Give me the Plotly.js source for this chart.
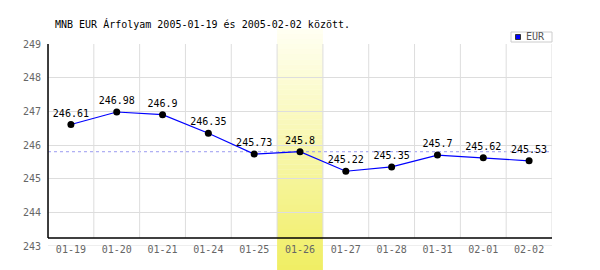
<!DOCTYPE html>
<html>
<head>
<meta charset="utf-8">
<script src="https://cdn.plot.ly/plotly-3.0.1.min.js"></script>
<style>html,body{margin:0;padding:0;background:#fff;}#chart{width:600px;height:270px;}</style>
</head>
<body>
<div id="chart"></div>
<script>
// ---- data ----
const categories = ['01-19','01-20','01-21','01-24','01-25','01-26','01-27','01-28','01-31','02-01','02-02'];
const eurValues = [246.61, 246.98, 246.9, 246.35, 245.73, 245.8, 245.22, 245.35, 245.7, 245.62, 245.53];
const seriesName = 'EUR';
const highlightCategory = '01-26';
const referenceValue = 245.8;
const yTicks = [243, 244, 245, 246, 247, 248, 249];
const titleText = 'MNB EUR Árfolyam 2005-01-19 és 2005-02-02 között.';

// ---- style / layout ----
const FONT = 'DejaVu Sans Mono, Liberation Mono, monospace';
const yMin = 243, yMax = 249;
const axisBase = 243.24;   // where the black x-axis line sits
const n = categories.length;
const mt = 44, mb = 24, ml = 48, mr = 48, W = 600, H = 270;
const plotH = H - mt - mb;
const pyPaper = py => (H - mb - py) / plotH;   // pixel y -> paper y
const pxPaper = px => (px - ml) / (W - ml - mr);

const shapes = [];
// bottom grid line at the lowest tick
shapes.push({type:'line', xref:'paper', yref:'y', x0:0, x1:1, y0:yMin, y1:yMin,
  line:{color:'#dddddd', width:1}, layer:'below'});
// vertical grid lines at category boundaries (stop at the x-axis line)
for (let i = 0; i <= n; i++) {
  shapes.push({type:'line', xref:'x', yref:'y', x0:i-0.5, x1:i-0.5, y0:axisBase, y1:yMax,
    line:{color:'#dddddd', width:1}, layer:'below'});
}
// highlight band with vertical gradient
const hi = categories.indexOf(highlightCategory);
const bandTop = pyPaper(29), bandBot = pyPaper(270);
const strips = 48;
const cTop = [255,255,242], cBot = [240,238,100];
for (let s = 0; s < strips; s++) {
  const t = (s + 0.5) / strips;
  const c = cTop.map((v,k) => Math.round(v + (cBot[k]-v)*t));
  const y0 = bandTop + (bandBot - bandTop) * s / strips;
  const y1 = bandTop + (bandBot - bandTop) * (s + 1) / strips;
  shapes.push({type:'rect', xref:'x', yref:'paper', x0:hi-0.5, x1:hi+0.5, y0:y0, y1:y1 + (s<strips-1 ? (y1-y0)*0.05 : 0),
    fillcolor:'rgb('+c.join(',')+')', line:{width:0}, layer:'between'});
}
// reference dashed line
shapes.push({type:'line', xref:'paper', yref:'y', x0:0, x1:1, y0:referenceValue, y1:referenceValue,
  line:{color:'#9a9af0', width:1, dash:'3px,3px'}, layer:'below'});
// axis lines
shapes.push({type:'line', xref:'paper', yref:'y', x0:0, x1:1, y0:axisBase, y1:axisBase,
  line:{color:'#000', width:1.5}, layer:'above'});
shapes.push({type:'line', xref:'paper', yref:'y', x0:0, x1:0, y0:axisBase, y1:yMax,
  line:{color:'#000', width:1.5}, layer:'above'});
// legend box
shapes.push({type:'rect', xref:'paper', yref:'paper', x0:pxPaper(511), x1:pxPaper(552), y0:pyPaper(42), y1:pyPaper(32),
  fillcolor:'#fff', line:{color:'#cccccc', width:1}, layer:'above'});
shapes.push({type:'rect', xref:'paper', yref:'paper', x0:pxPaper(515.5), x1:pxPaper(520.5), y0:pyPaper(39.5), y1:pyPaper(34.5),
  fillcolor:'#0000ff', line:{color:'#333', width:1}, layer:'above'});

const trace = {
  type:'scatter', mode:'lines+markers+text', name:seriesName,
  x:categories, y:eurValues,
  text:eurValues.map(v => String(v)), textposition:'top center',
  textfont:{family:FONT, size:10, color:'#000'},
  line:{color:'#0000ff', width:1.2},
  marker:{color:'#000', size:7},
  cliponaxis:false, hoverinfo:'skip'
};

const layout = {
  width:W, height:H,
  margin:{l:ml, r:mr, t:mt, b:mb, pad:0},
  paper_bgcolor:'#fff', plot_bgcolor:'rgba(0,0,0,0)',
  showlegend:false,
  font:{family:FONT, size:10, color:'#666'},
  xaxis:{type:'category', range:[-0.5, n-0.5], showgrid:false, zeroline:false, showline:false,
    ticks:'', tickfont:{family:FONT, size:10, color:'#666'}, ticklabelstandoff:-4, fixedrange:true},
  yaxis:{range:[yMin, yMax], tickvals:yTicks, ticktext:yTicks.map(String), showgrid:true, gridcolor:'#dddddd', gridwidth:1,
    zeroline:false, showline:false, ticks:'', tickfont:{family:FONT, size:10, color:'#666'}, ticklabelstandoff:6, fixedrange:true},
  shapes:shapes,
  annotations:[
    {xref:'paper', yref:'paper', x:pxPaper(53), y:pyPaper(24), xanchor:'left', yanchor:'middle', showarrow:false,
      text:titleText, font:{family:FONT, size:10, color:'#000'}},
    {xref:'paper', yref:'paper', x:pxPaper(524), y:pyPaper(37), xanchor:'left', yanchor:'middle', showarrow:false,
      text:seriesName, font:{family:FONT, size:10, color:'#555'}}
  ]
};

Plotly.newPlot('chart', [trace], layout, {staticPlot:true, displayModeBar:false});
</script>
</body>
</html>
